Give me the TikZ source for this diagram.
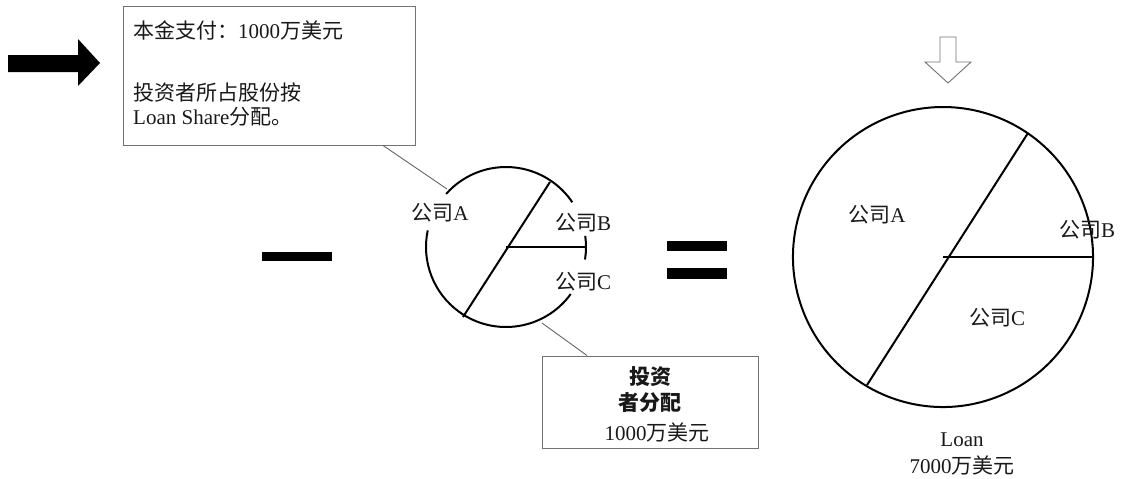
\documentclass[tikz,border=0pt]{standalone}
\usepackage{fontspec}
\setmainfont{Liberation Serif}
\newfontfamily\cjk{Noto Sans CJK SC}
\begin{document}
\begin{tikzpicture}[x=1pt,y=-1pt,
  lbl/.style={inner sep=0pt,text=black!90,font=\fontsize{21}{25}\selectfont},
  pie/.style={line width=2pt,black},
  callout/.style={draw=gray!90!black,line width=0.9pt},
  leader/.style={gray!80!black,line width=0.9pt},
  bar/.style={fill=black,draw=none}]
\useasboundingbox (0,0) rectangle (1124,479);

% black arrow
\fill[black] (8,55) -- (78,55) -- (78,39) -- (100,63) -- (78,86) -- (78,72) -- (8,72) -- cycle;

% top callout box
\node[callout,minimum width=292pt,minimum height=139pt,inner sep=0pt] (tb) at (269,75.5) {};
\node[lbl,anchor=west] (t1) at (133,30) {{\cjk 本金支付：}1000{\cjk 万美元}};
\node[lbl,anchor=west] (t2) at (133,92) {{\cjk 投资者所占股份按}};
\node[lbl,anchor=west] (t3) at (133,117) {Loan Share{\cjk 分配。}};

% minus and equals
\fill[bar] (262,252) rectangle (332,261);
\fill[bar] (667,241) rectangle (727,251);
\fill[bar] (667,268) rectangle (727,279);

% small pie
\coordinate (c1) at (506,247);
\draw[pie] ([shift={(-138.5:80)}]c1) arc[start angle=-138.5,end angle=-34,radius=80];
\draw[pie] ([shift={(-8:80)}]c1) arc[start angle=-8,end angle=9,radius=80];
\draw[pie] ([shift={(36:80)}]c1) arc[start angle=36,end angle=192,radius=80];
\coordinate (s1) at (550,182);
\coordinate (s2) at (463,317);
\coordinate (s3) at (585,247);
\draw[pie] (s1) -- (s2);
\draw[pie] (c1) -- (s3);
\node[lbl] (sa) at (440,213) {{\cjk 公司}A};
\node[lbl] (sb) at (583,223) {{\cjk 公司}B};
\node[lbl] (sc) at (583,282) {{\cjk 公司}C};

% leader from top box to small pie
\coordinate (p1) at (447,189);
\draw[leader] ([xshift=114pt]tb.south) -- (p1);

% bottom callout box
\node[callout,minimum width=216pt,minimum height=92pt,inner sep=0pt] (bb) at (650,402) {};
\node[lbl] (b1) at (650,377) {\cjk\bfseries 投资};
\node[lbl] (b2) at (650,403) {\cjk\bfseries 者分配};
\node[lbl] (b3) at (657,432) {1000{\cjk 万美元}};
\coordinate (p2) at (542,323);
\draw[leader] ([xshift=-63pt]bb.north) -- (p2);

% hollow down arrow
\draw[gray!90!black,fill=white,line width=0.9pt] (940,37) -- (956,37) -- (956,62) -- (971,62) -- (948,83) -- (925,62) -- (940,62) -- cycle;

% big pie
\coordinate (c2) at (943,257);
\draw[pie] ([shift={(-18:150)}]c2) arc[start angle=-18,end angle=356,radius=150];
\coordinate (d1) at (1028,133);
\coordinate (d2) at (867,385);
\coordinate (d3) at (1093,257);
\draw[pie] (d1) -- (d2);
\draw[pie] (c2) -- (d3);
\node[lbl] (ba) at (877,215) {{\cjk 公司}A};
\node[lbl] (bbb) at (1087,230) {{\cjk 公司}B};
\node[lbl] (bc) at (997,318) {{\cjk 公司}C};
\node[lbl] (l1) at (962,440) {Loan};
\node[lbl] (l2) at (962,465) {7000{\cjk 万美元}};
\end{tikzpicture}
\end{document}
